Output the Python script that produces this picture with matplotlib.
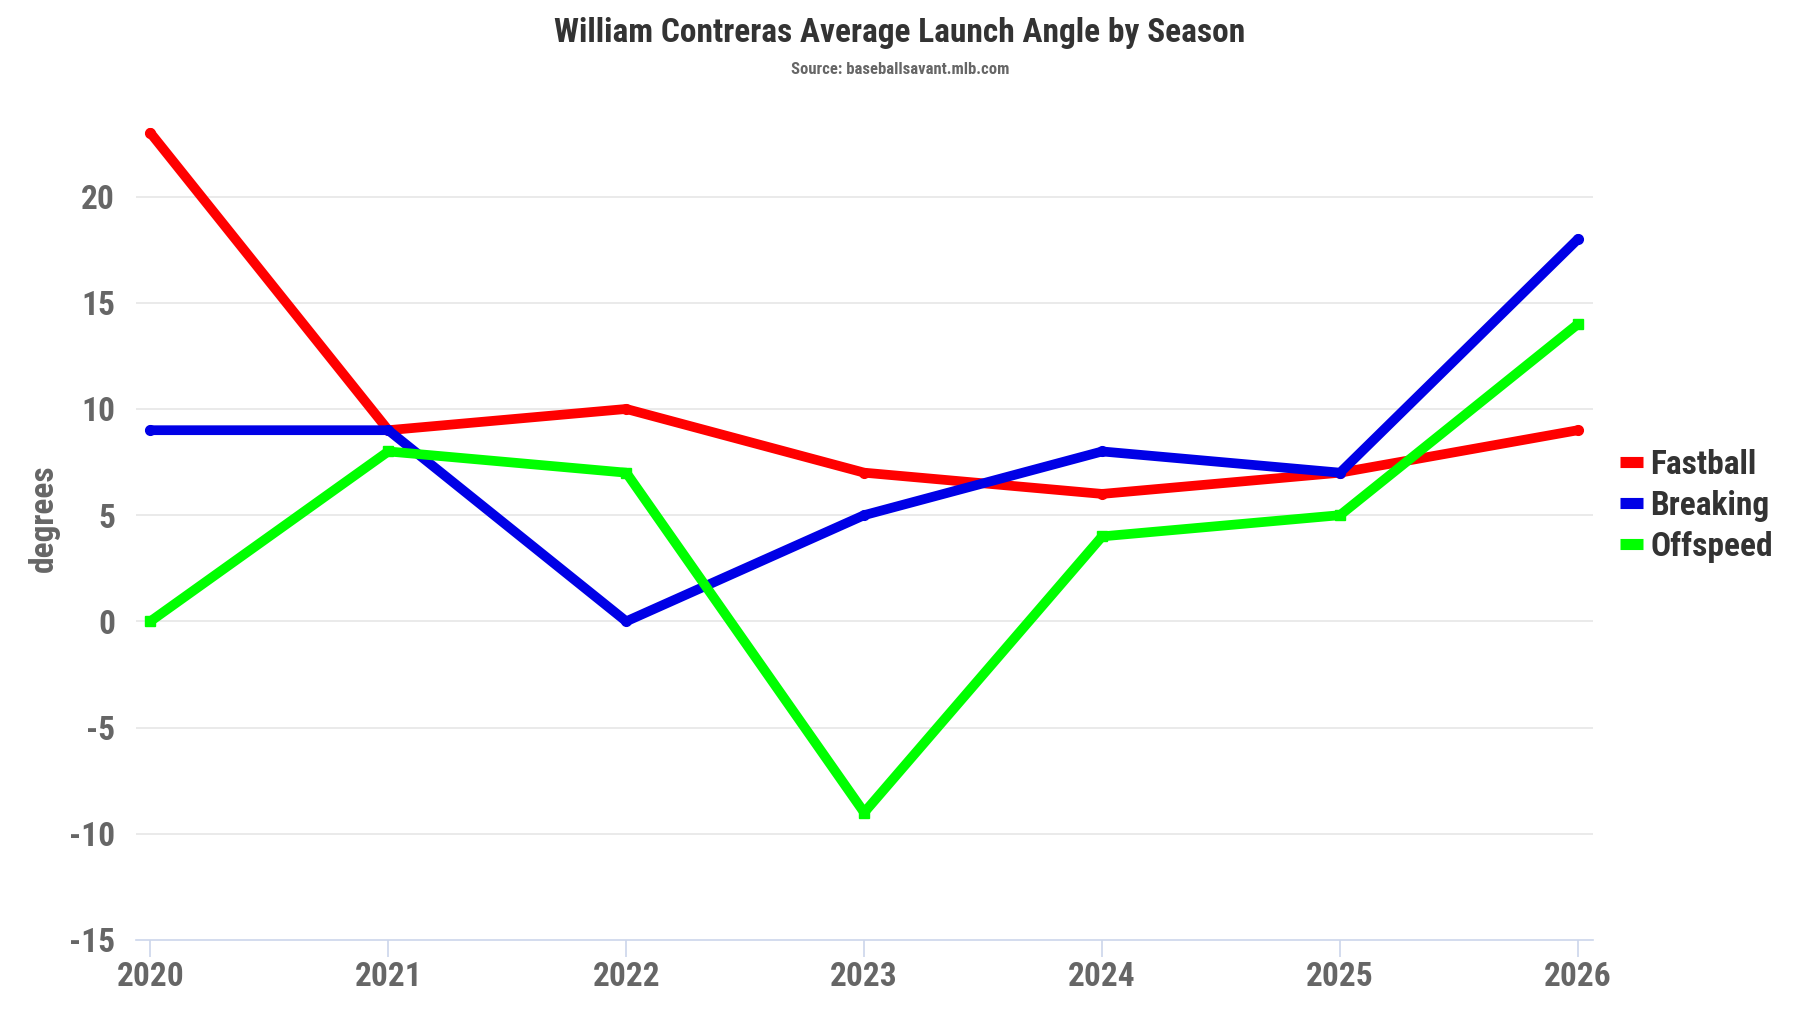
import matplotlib
matplotlib.use("Agg")
import matplotlib.pyplot as plt
from matplotlib import font_manager

# pick a condensed font if one is around, else plain Roboto
names = set(f.name for f in font_manager.fontManager.ttflist)
family = "DejaVu Sans"
for cand in ["Roboto Condensed", "Liberation Sans Narrow", "Roboto"]:
    if cand in names:
        family = cand
        break
plt.rcParams["font.family"] = [family, "DejaVu Sans"]
plt.rcParams["font.weight"] = "bold"

seasons = [2020, 2021, 2022, 2023, 2024, 2025, 2026]
fastball = [23, 9, 10, 7, 6, 7, 9]
breaking = [9, 9, 0, 5, 8, 7, 18]
offspeed = [0, 8, 7, -9, 4, 5, 14]
yticks = [-15, -10, -5, 0, 5, 10, 15, 20]

fig = plt.figure(figsize=(18, 10.13), dpi=100)
ax = fig.add_axes([0.0756, 0.0721, 0.8094, 0.8387])

ax.plot(seasons, fastball, color="#ff0000", lw=7, marker="o", ms=7,
        solid_capstyle="round", solid_joinstyle="round", label="Fastball", zorder=3)
ax.plot(seasons, breaking, color="#0000e6", lw=7, marker="o", ms=7,
        solid_capstyle="round", solid_joinstyle="round", label="Breaking", zorder=3)
ax.plot(seasons, offspeed, color="#00ff00", lw=7, marker="s", ms=7,
        solid_capstyle="butt", solid_joinstyle="round", label="Offspeed", zorder=3)

ax.set_xlim(2019.94, 2026.063)
ax.set_ylim(-15, 25)
ax.set_xticks(seasons)
ax.set_yticks(yticks)
ax.set_yticklabels([str(v) for v in yticks])

for v in yticks[1:]:
    ax.axhline(v, color="#e6e6e6", lw=1.2, zorder=1)

for s in ["top", "right", "left"]:
    ax.spines[s].set_visible(False)
ax.spines["bottom"].set_color("#ccd6eb")
ax.spines["bottom"].set_linewidth(1.2)

ax.tick_params(axis="x", colors="#ccd6eb", length=12, width=1.2, pad=3,
               labelcolor="#666666", labelsize=24)
ax.tick_params(axis="y", length=0, pad=15, labelcolor="#666666", labelsize=24)
for lab in ax.get_xticklabels() + ax.get_yticklabels():
    lab.set_fontweight("bold")

fig.text(0.0244, 0.488, "degrees", rotation=90, ha="center", va="center",
         fontsize=24, color="#666666", fontweight="bold")

fig.text(0.5, 0.967, "William Contreras Average Launch Angle by Season",
         ha="center", va="center", fontsize=24, color="#333333", fontweight="bold")
fig.text(0.5, 0.931, "Source: baseballsavant.mlb.com",
         ha="center", va="center", fontsize=12, color="#666666", fontweight="bold")

leg = ax.legend(loc="center left", bbox_to_anchor=(0.998, 0.511), frameon=False,
                handlelength=0.7, handletextpad=0.2, labelspacing=0.27,
                fontsize=24, labelcolor="#333333")
for h in leg.get_lines():
    h.set_marker("")
    h.set_linewidth(8)
    h.set_solid_capstyle("butt")
for t in leg.get_texts():
    t.set_fontweight("bold")

fig.savefig("out.png", dpi=100)
